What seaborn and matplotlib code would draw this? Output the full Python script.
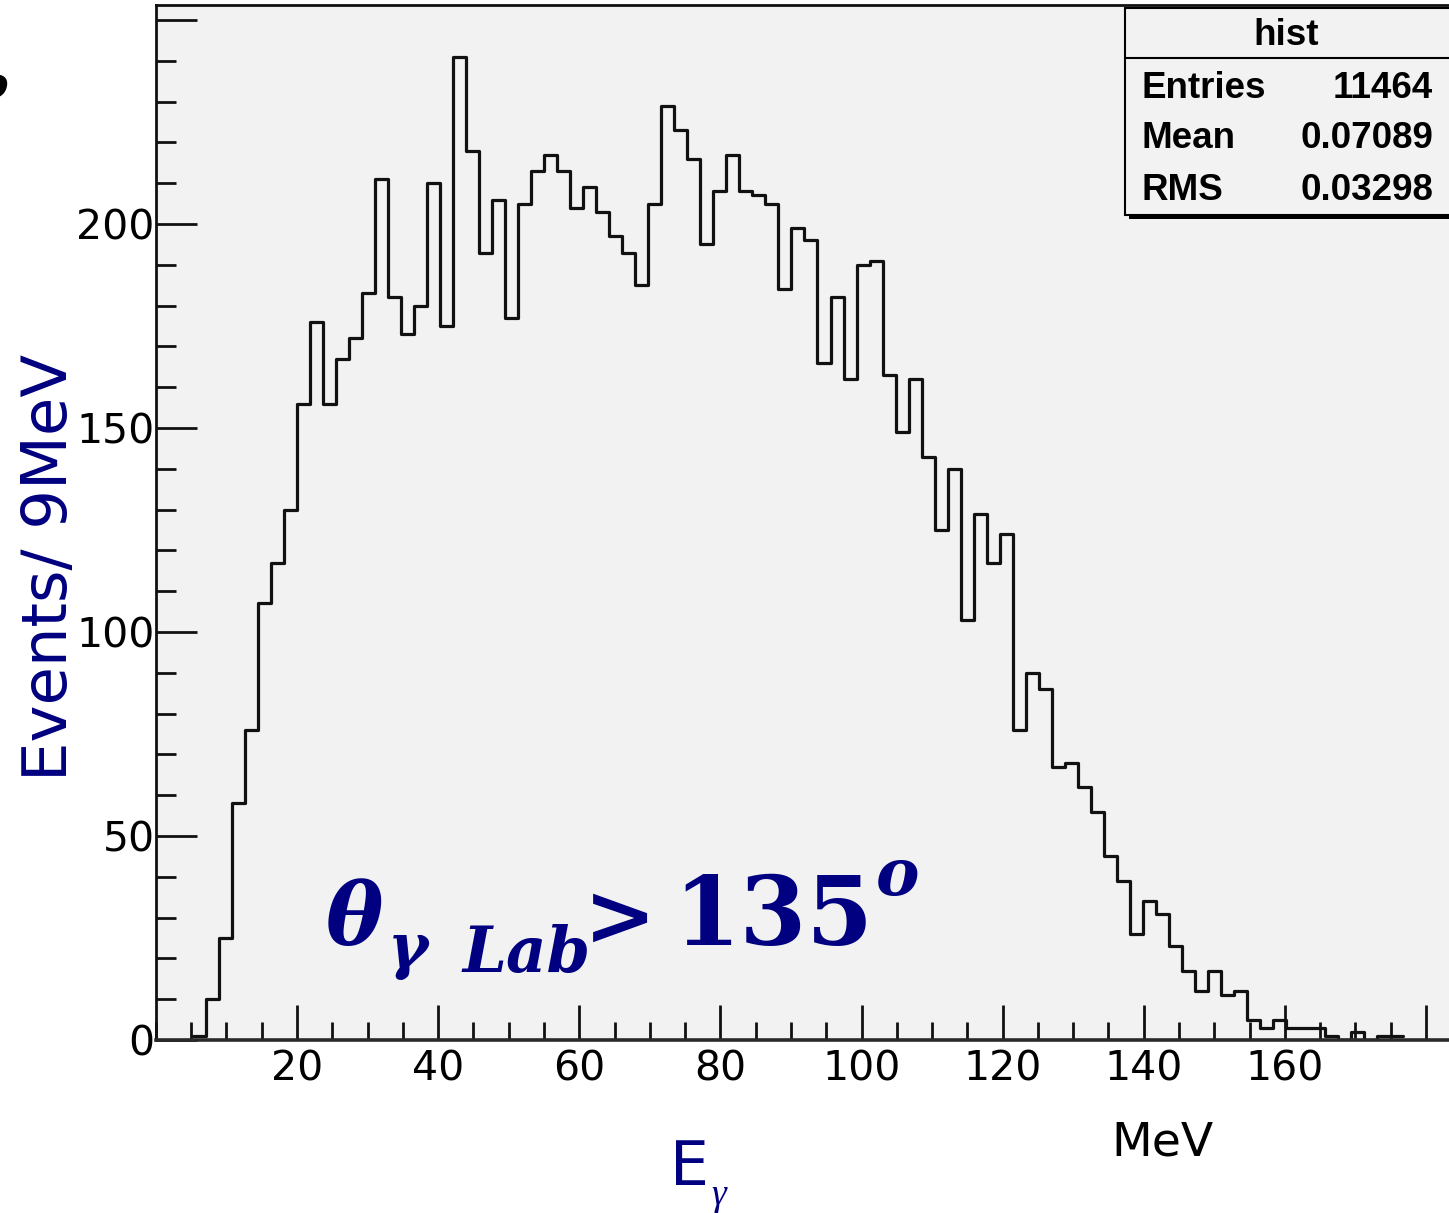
import numpy as np
import pandas as pd
import matplotlib
matplotlib.use("Agg")
import matplotlib.pyplot as plt
from matplotlib import font_manager
from matplotlib.patches import Rectangle
from matplotlib.lines import Line2D
from matplotlib.ticker import FixedLocator, MultipleLocator
import seaborn as sns

# Photon energy spectrum (MeV): fixed-width bins, events per bin
bin_start = 5.3
bin_width = 1.843
counts = [1, 10, 25, 58, 76, 107, 117, 130, 156, 176,
          156, 167, 172, 183, 211, 182, 173, 180, 210, 175,
          241, 218, 193, 206, 177, 205, 213, 217, 213, 204,
          209, 203, 197, 193, 185, 205, 229, 223, 216, 195,
          208, 217, 208, 207, 205, 184, 199, 196, 166, 182,
          162, 190, 191, 163, 149, 162, 143, 125, 140, 103,
          129, 117, 124, 76, 90, 86, 67, 68, 62, 56,
          45, 39, 26, 34, 31, 23, 17, 12, 17, 11,
          12, 5, 3, 5, 3, 3, 3, 1, 0, 2, 0, 1, 1]

x_tick_values = [20, 40, 60, 80, 100, 120, 140, 160, 180]
x_tick_labels = ["20", "40", "60", "80", "100", "120", "140", "160", ""]
y_tick_values = [0, 50, 100, 150, 200, 250]
y_tick_labels = ["0", "50", "100", "150", "200", ""]

stats_title = "hist"
stats_names = ["Entries", "Mean", "RMS"]
stats_values = ["11464", "0.07089", "0.03298"]

NAVY = "#000080"
PANEL = "#f2f2f2"
INK = "#111111"
W, H = 1449, 1213

sns.set_style("white")
plt.rcParams["font.family"] = ["DejaVu Sans"]
plt.rcParams["text.color"] = "black"


def fx(px):
    return px / W


def fy(py):
    return 1 - py / H


fig = plt.figure(figsize=(W / 100, H / 100), dpi=100)
ax_left, ax_right, ax_top, ax_bottom = 155.9, W, 5, 1040
ax = fig.add_axes([fx(ax_left), fy(ax_bottom), fx(ax_right) - fx(ax_left),
                   fy(ax_top) - fy(ax_bottom)])
ax.set_facecolor(PANEL)

n_bins = len(counts)
bin_stop = bin_start + bin_width * n_bins
centers = bin_start + bin_width * (np.arange(n_bins) + 0.5)
df = pd.DataFrame({"E": centers, "n": counts})
sns.histplot(data=df, x="E", weights="n", bins=n_bins,
             binrange=(bin_start, bin_stop), element="step",
             fill=False, color="#111111", linewidth=2.3, ax=ax)

ax.set_xlim(0, (ax_right - ax_left) / 7.056)
ax.set_ylim(0, (ax_bottom - ax_top) / 4.08)

ax.xaxis.set_major_locator(FixedLocator(x_tick_values))
ax.set_xticklabels(x_tick_labels)
ax.yaxis.set_major_locator(FixedLocator(y_tick_values))
ax.set_yticklabels(y_tick_labels)
ax.xaxis.set_minor_locator(MultipleLocator(5))
ax.yaxis.set_minor_locator(MultipleLocator(10))

ax.tick_params(which="both", bottom=True, left=True, top=False, right=False)
ax.tick_params(axis="x", which="major", direction="in", length=25, width=2.0,
               color=INK, labelsize=29.5, labelcolor="black", pad=7)
ax.tick_params(axis="x", which="minor", direction="in", length=13, width=2.0,
               color=INK)
ax.tick_params(axis="y", which="major", direction="in", length=29.5, width=2.0,
               color=INK, labelsize=29.5, labelcolor="black", pad=1)
ax.tick_params(axis="y", which="minor", direction="in", length=14.5, width=2.0,
               color=INK)

for side in ("left", "top"):
    ax.spines[side].set_linewidth(2.0)
    ax.spines[side].set_color(INK)
ax.spines["bottom"].set_linewidth(2.6)
ax.spines["bottom"].set_color("#2a2a2a")
ax.spines["right"].set_visible(False)

ax.set_ylabel("Events/ 9MeV", fontsize=45, color=NAVY, va="center")
ax.yaxis.set_label_coords((50 - ax_left) / (ax_right - ax_left),
                          (ax_bottom - 567.5) / (ax_bottom - ax_top))
ax.set_xlabel("E", fontsize=44.5, color=NAVY, va="baseline")
ax.xaxis.set_label_coords((690 - ax_left) / (ax_right - ax_left),
                          (ax_bottom - 1185) / (ax_bottom - ax_top))
fig.text(fx(719), fy(1205), "\u03b3", fontsize=27, color=NAVY,
         family="Liberation Serif", style="italic", ha="center", va="baseline")
fig.text(fx(1163), fy(1155), "MeV", fontsize=34, color="black",
         ha="center", va="baseline")

# angular cut annotation: theta_{gamma Lab} > 135 deg
serif = "DejaVu Serif"
cut_parts = [
    # text, left px, baseline px, size, style
    ("\u03b8", 326, 945, 62, "italic"),
    ("\u03b3", 388, 967, 44, "italic"),
    ("Lab", 462, 972, 45, "italic"),
    (">", 584, 945, 62, "normal"),
    ("135", 673, 945, 69, "normal"),
    ("o", 876, 895, 47, "italic"),
]
for txt, px, py, size, style in cut_parts:
    fig.text(fx(px), fy(py), txt, fontsize=size, color=NAVY, family=serif,
             style=style, weight="bold", ha="left", va="baseline")

fig.text(fx(-7), fy(86), "o", fontsize=32, color="black", family=serif,
         style="italic", weight="bold", ha="center", va="center")

# statistics box
names = {f.name for f in font_manager.fontManager.ttflist}
if "Liberation Sans Narrow" in names:
    box_family, box_size = "Liberation Sans Narrow", 31
else:
    box_family, box_size = "Liberation Sans", 26.5

bx0, by0, by1 = 1125, 8, 215
fig.add_artist(Rectangle((fx(bx0 + 4), fy(by1 + 4)), fx(W + 20) - fx(bx0 + 4),
                         fy(by0 + 4) - fy(by1 + 4), transform=fig.transFigure,
                         facecolor="black", edgecolor="none"))
fig.add_artist(Rectangle((fx(bx0), fy(by1)), fx(W + 20) - fx(bx0),
                         fy(by0) - fy(by1), transform=fig.transFigure,
                         facecolor=PANEL, edgecolor="black", linewidth=1.5))
fig.add_artist(Line2D([fx(bx0), fx(W)], [fy(58), fy(58)],
                      transform=fig.transFigure, color="black", linewidth=1.5))
fig.text(fx(1286), fy(45), stats_title, fontsize=box_size, family=box_family,
         weight="bold", color="black", ha="center", va="baseline")
for name, value, base in zip(stats_names, stats_values, [98, 148, 200]):
    fig.text(fx(1141), fy(base), name, fontsize=box_size, family=box_family,
             weight="bold", color="black", ha="left", va="baseline")
    fig.text(fx(1433), fy(base), value, fontsize=box_size, family=box_family,
             weight="bold", color="black", ha="right", va="baseline")

fig.savefig("out.png", dpi=100, facecolor="white")
